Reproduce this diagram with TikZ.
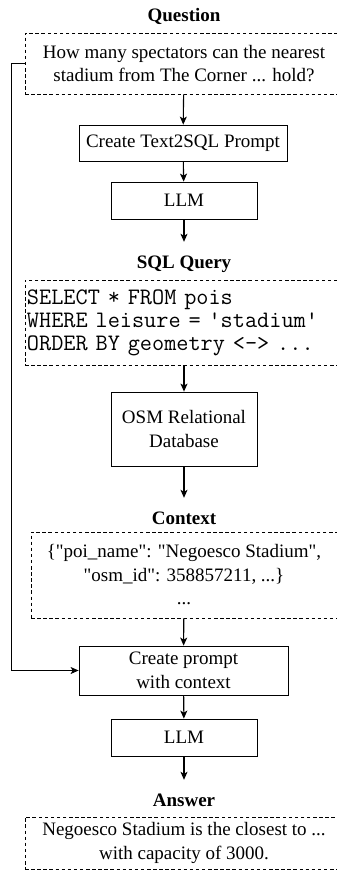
\documentclass[tikz,border=0pt]{standalone}
\usepackage{fontspec}
\setmainfont{Liberation Serif}
\usetikzlibrary{positioning, arrows.meta}
\newcommand{\diagfont}{\fontsize{19}{23.5}\selectfont}
\tikzset{
	x=1pt, y=-1pt,
	procbox/.style={draw, line width=0.8pt, align=center, inner sep=0pt, font=\diagfont},
	databox/.style={draw, dash pattern=on 3.5pt off 2.6pt, line width=0.8pt, align=center, inner sep=0pt, font=\diagfont},
	heading/.style={font=\diagfont\bfseries, text height=13pt, text depth=4pt, inner xsep=0pt, inner ysep=13pt, anchor=base},
	flow/.style={draw, -{Stealth[length=8pt,width=7pt,inset=2pt]}, line width=1.1pt}
}

\begin{document}
\begin{tikzpicture}
\useasboundingbox (0,0) rectangle (337,879);
\clip (0,0) rectangle (337,879);

\node[heading] (qhead) at (184,21) {Question};
\node[databox, minimum width=318pt, minimum height=61pt] (question) at (184,63.5) {How many spectators can the nearest\\stadium from The Corner ... hold?};

\node[procbox, minimum width=208pt, minimum height=36pt] (t2s) at (183,143) {Create Text2SQL Prompt};
\node[procbox, minimum width=146pt, minimum height=37pt] (llmA) at (184,200.5) {LLM};

\node[heading] (sqlhead) at (184,268) {SQL Query};
\node[databox, text width=314pt, inner xsep=2pt, align=left, minimum height=85pt,
	font=\ttfamily\fontsize{23.6}{23}\selectfont] (sql) at (184,322.5)
	{SELECT * FROM pois\\WHERE leisure = 'stadium'\\ORDER BY geometry <-> ...};

\node[procbox, minimum width=146pt, minimum height=74pt] (osm) at (184,429) {OSM Relational\\Database};

\node[heading] (ctxhead) at (184,524) {Context};
\node[databox, minimum width=306pt, minimum height=86pt] (context) at (184,575)
	{\{\textquotedbl poi\_name\textquotedbl: \textquotedbl Negoesco Stadium\textquotedbl,\\
	\textquotedbl osm\_id\textquotedbl: 358857211, ...\}\\...};

\node[procbox, minimum width=209pt, minimum height=49pt] (prompt) at (183.5,670.5) {Create prompt\\with context};
\node[procbox, minimum width=146pt, minimum height=37pt] (llmB) at (184,737.5) {LLM};

\node[heading] (anshead) at (184,806) {Answer};
\node[databox, minimum width=318pt, minimum height=52pt] (answer) at (184,843) {Negoesco Stadium is the closest to ...\\with capacity of 3000.};

% main flow
\draw[flow] (question) -- (t2s);
\draw[flow] (t2s) -- (llmA);
\draw[flow] (llmA) -- (sqlhead);
\draw[flow] (sql) -- (osm);
\draw[flow] (osm) -- (ctxhead);
\draw[flow] (context) -- (prompt);
\draw[flow] (prompt) -- (llmB);
\draw[flow] (llmB) -- (anshead);
% question goes straight to the second prompt
\draw[flow] (question.west) -- ++(-13,0) |- (prompt.west);
\end{tikzpicture}
\end{document}
